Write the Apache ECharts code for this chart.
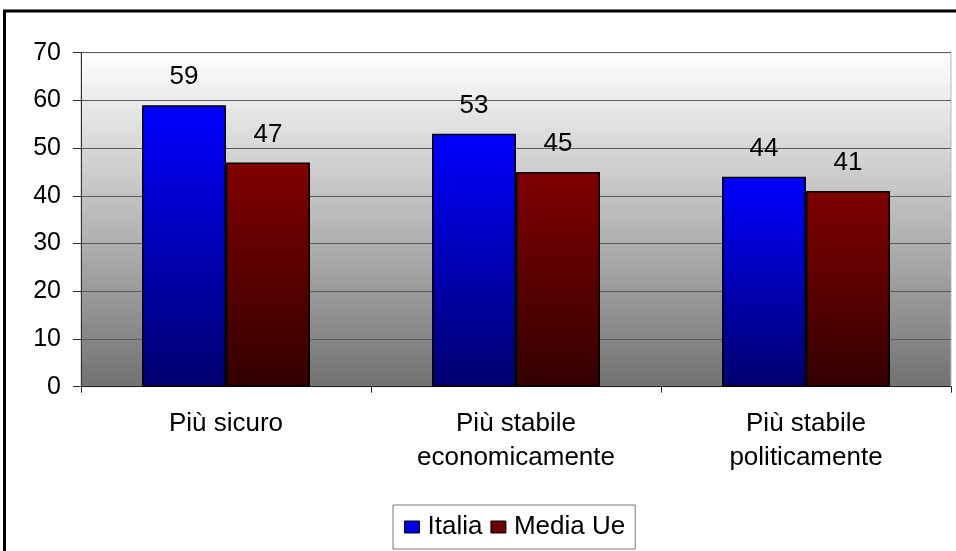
<!DOCTYPE html>
<html>
<head>
<meta charset="utf-8">
<script src="https://cdn.jsdelivr.net/npm/echarts@6/dist/echarts.min.js"></script>
<style>
html,body{margin:0;padding:0;background:#fff;}
#chart{width:956px;height:551px;}
</style>
</head>
<body>
<div id="chart"></div>
<script>
const categories = ['Più sicuro', 'Più stabile\neconomicamente', 'Più stabile\npoliticamente'];
const seriesNames = ['Italia', 'Media Ue'];
const italia = [59, 53, 44];
const mediaUe = [47, 45, 41];
const yTicks = { min: 0, max: 70, interval: 10 };

const FONT = "'Liberation Sans', Arial, sans-serif";
const grad = (top, bottom) => new echarts.graphic.LinearGradient(0, 0, 0, 1, [
  { offset: 0, color: top }, { offset: 1, color: bottom }
]);

const chart = echarts.init(document.getElementById('chart'), null, { renderer: 'canvas' });
chart.setOption({
  backgroundColor: '#ffffff',
  animation: false,
  textStyle: { fontFamily: FONT },
  graphic: [{
    type: 'rect', z: -10, silent: true,
    shape: { x: 4.5, y: 11, width: 1100, height: 700 },
    style: { fill: null, stroke: '#000', lineWidth: 3 }
  }],
  grid: {
    left: 81, right: 5, top: 52.7, bottom: 164.3,
    show: true,
    backgroundColor: grad('#ffffff', '#727272'),
    borderColor: '#b8b8b8', borderWidth: 1
  },
  legend: {
    data: [
      { name: seriesNames[0], itemStyle: { color: '#0000e0', borderColor: '#000', borderWidth: 1 } },
      { name: seriesNames[1], itemStyle: { color: '#6a0000', borderColor: '#000', borderWidth: 1 } }
    ],
    top: 505, left: 393,
    icon: 'rect', itemWidth: 15, itemHeight: 12, itemGap: 8,
    padding: [7, 10, 7, 11],
    borderColor: '#777', borderWidth: 1,
    textStyle: { fontSize: 26, color: '#000', fontFamily: FONT, lineHeight: 30, padding: [0, 0, 0, 3] }
  },
  xAxis: {
    type: 'category',
    data: categories,
    axisLine: { lineStyle: { color: '#222', width: 1 } },
    axisTick: { show: true, length: 6, lineStyle: { color: '#222' } },
    axisLabel: { fontSize: 26, color: '#000', margin: 20, lineHeight: 34, fontFamily: FONT, interval: 0 },
    splitLine: { show: false }
  },
  yAxis: {
    type: 'value',
    min: yTicks.min, max: yTicks.max, interval: yTicks.interval,
    axisLine: { show: true, lineStyle: { color: '#333', width: 1 } },
    axisTick: { show: true, length: 8, lineStyle: { color: '#333' } },
    axisLabel: { fontSize: 25, color: '#000', margin: 20, fontFamily: FONT },
    splitLine: { show: true, lineStyle: { color: '#5a5a5a', width: 1 } }
  },
  series: [
    {
      name: seriesNames[0], type: 'bar', data: italia,
      barWidth: 84, barGap: '0%',
      itemStyle: { color: grad('#0000ff', '#00006e'), borderColor: '#000', borderWidth: 1.5 },
      label: { show: true, position: 'top', distance: 15, fontSize: 26, color: '#000', fontFamily: FONT }
    },
    {
      name: seriesNames[1], type: 'bar', data: mediaUe,
      barWidth: 84, barGap: '0%',
      itemStyle: { color: grad('#800000', '#330000'), borderColor: '#000', borderWidth: 1.5 },
      label: { show: true, position: 'top', distance: 15, fontSize: 26, color: '#000', fontFamily: FONT }
    }
  ]
});
</script>
</body>
</html>
